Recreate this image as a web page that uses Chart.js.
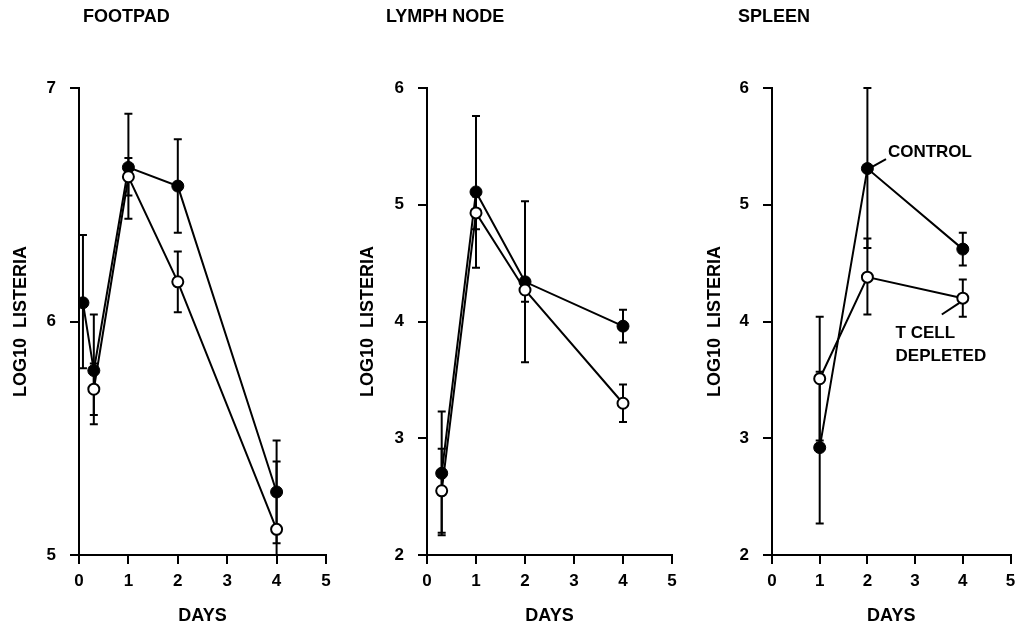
<html>
<head>
<title>Listeria counts after infection</title>
<script src="https://cdn.jsdelivr.net/npm/chart.js"></script>
<style>
  body { margin: 0; padding: 0; background: #fff; }
  #wrap { position: relative; width: 1018px; height: 627px; }
  canvas { position: absolute; top: 0; }
</style>
</head>
<body>
<div id="wrap">
  <canvas id="footpad" width="340" height="627" style="left:0px"></canvas>
  <canvas id="lymph" width="340" height="627" style="left:340px"></canvas>
  <canvas id="spleen" width="338" height="627" style="left:680px"></canvas>
</div>
<script>
// x axis (days) tick labels, shared by all panels
const dayTicks = [0, 1, 2, 3, 4, 5];

// footpad
const fpTicks = [5, 6, 7];
const fpCtrlDays = [0.08, 0.3, 1, 2, 4];
const fpCtrl   = [6.08, 5.79, 6.66, 6.58, 5.27];
const fpCtrlLo = [5.80, 5.56, 6.44, 6.38, 5.05];
const fpCtrlHi = [6.37, 6.03, 6.89, 6.78, 5.49];
const fpTcdDays = [0.3, 1, 2, 4];
const fpTcd   = [5.71, 6.62, 6.17, 5.11];
const fpTcdLo = [5.60, 6.54, 6.04, 4.82];
const fpTcdHi = [5.82, 6.70, 6.30, 5.40];

// lymph node
const lnTicks = [2, 3, 4, 5, 6];
const lnDays = [0.3, 1, 2, 4];
const lnCtrl   = [2.70, 5.11, 4.34, 3.96];
const lnCtrlLo = [2.17, 4.46, 3.65, 3.82];
const lnCtrlHi = [3.23, 5.76, 5.03, 4.10];
const lnTcd   = [2.55, 4.93, 4.27, 3.30];
const lnTcdLo = [2.19, 4.79, 4.17, 3.14];
const lnTcdHi = [2.91, 5.07, 4.37, 3.46];

// spleen
const spTicks = [2, 3, 4, 5, 6];
const spDays = [1, 2, 4];
const spCtrl   = [2.92, 5.31, 4.62];
const spCtrlLo = [2.27, 4.63, 4.48];
const spCtrlHi = [3.57, 6.00, 4.76];
const spTcd   = [3.51, 4.38, 4.20];
const spTcdLo = [2.98, 4.06, 4.04];
const spTcdHi = [4.04, 4.71, 4.36];

const FONT = '"Liberation Sans", Arial, Helvetica, sans-serif';

function pts(xs, ys) {
  return xs.map((x, i) => ({ x: x, y: ys[i] }));
}

// error bars, drawn under the lines and markers
const errorBars = {
  id: 'errorBars',
  beforeDatasetsDraw(chart) {
    const { ctx, chartArea, scales } = chart;
    ctx.save();
    ctx.beginPath();
    ctx.rect(chartArea.left - 6, chartArea.top - 2, chartArea.width + 12, chartArea.height + 3);
    ctx.clip();
    ctx.strokeStyle = '#000';
    ctx.lineWidth = 2;
    chart.data.datasets.forEach(ds => {
      ds.data.forEach((p, i) => {
        const px = scales.x.getPixelForValue(p.x);
        const top = scales.y.getPixelForValue(ds.hi[i]);
        const bot = scales.y.getPixelForValue(ds.lo[i]);
        ctx.beginPath();
        ctx.moveTo(px, top); ctx.lineTo(px, bot);
        ctx.moveTo(px - 4, top); ctx.lineTo(px + 4, top);
        ctx.moveTo(px - 4, bot); ctx.lineTo(px + 4, bot);
        ctx.stroke();
      });
    });
    ctx.restore();
  }
};

// panel heading and the CONTROL / T CELL DEPLETED labels
const panelText = {
  id: 'panelText',
  afterDraw(chart, args, opts) {
    const { ctx, scales } = chart;
    ctx.save();
    ctx.fillStyle = '#000';
    ctx.textBaseline = 'middle';
    ctx.font = 'bold 18px ' + FONT;
    ctx.fillText(opts.title, opts.titleX, 17);
    (opts.notes || []).forEach(n => {
      ctx.font = 'bold 17px ' + FONT;
      ctx.fillText(n.text, scales.x.getPixelForValue(n.x), scales.y.getPixelForValue(n.y));
    });
    ctx.strokeStyle = '#000';
    ctx.lineWidth = 2;
    (opts.leaders || []).forEach(l => {
      ctx.beginPath();
      ctx.moveTo(scales.x.getPixelForValue(l[0]), scales.y.getPixelForValue(l[1]));
      ctx.lineTo(scales.x.getPixelForValue(l[2]), scales.y.getPixelForValue(l[3]));
      ctx.stroke();
    });
    ctx.restore();
  }
};

function makePanel(id, cfg) {
  const tickFont = { family: FONT, size: 17, weight: 'bold' };
  const titleFont = { family: FONT, size: 18, weight: 'bold' };
  return new Chart(document.getElementById(id), {
    type: 'scatter',
    data: {
      datasets: [
        {
          label: 'T cell depleted',
          data: pts(cfg.tcdDays, cfg.tcd),
          lo: cfg.tcdLo, hi: cfg.tcdHi,
          showLine: true,
          borderColor: '#000', borderWidth: 2,
          pointRadius: 5.5, pointBorderWidth: 2,
          pointBackgroundColor: '#fff', pointBorderColor: '#000'
        },
        {
          label: 'Control',
          data: pts(cfg.ctrlDays, cfg.ctrl),
          lo: cfg.ctrlLo, hi: cfg.ctrlHi,
          showLine: true,
          borderColor: '#000', borderWidth: 2,
          pointRadius: 6, pointBorderWidth: 1,
          pointBackgroundColor: '#000', pointBorderColor: '#000'
        }
      ]
    },
    options: {
      responsive: false,
      animation: false,
      layout: { padding: { top: 88, right: cfg.padRight, bottom: 0, left: 0 } },
      plugins: {
        legend: { display: false },
        tooltip: { enabled: false },
        panelText: { title: cfg.title, titleX: cfg.titleX, notes: cfg.notes, leaders: cfg.leaders }
      },
      scales: {
        x: {
          type: 'linear',
          min: dayTicks[0], max: dayTicks[dayTicks.length - 1],
          afterBuildTicks: s => { s.ticks = dayTicks.map(v => ({ value: v })); },
          afterFit: s => { s.height = 72; s.paddingLeft = 0; s.paddingRight = 0; },
          ticks: { color: '#000', font: tickFont, padding: 7, maxRotation: 0 },
          grid: { drawOnChartArea: false, tickLength: 9, color: '#000', lineWidth: 2 },
          border: { color: '#000', width: 2 },
          title: { display: true, text: 'DAYS', color: '#000', font: titleFont, padding: { top: 0, bottom: 0 } }
        },
        y: {
          type: 'linear',
          min: cfg.yTicks[0], max: cfg.yTicks[cfg.yTicks.length - 1],
          afterBuildTicks: s => { s.ticks = cfg.yTicks.map(v => ({ value: v })); },
          afterFit: s => { s.width = cfg.yWidth; },
          ticks: { color: '#000', font: tickFont, padding: 14 },
          grid: { drawOnChartArea: false, tickLength: 9, color: '#000', lineWidth: 2 },
          border: { color: '#000', width: 2 },
          title: { display: true, text: 'LOG10  LISTERIA', color: '#000', font: titleFont, padding: { top: cfg.yTitlePad, bottom: 0 } }
        }
      }
    },
    plugins: [errorBars, panelText]
  });
}

makePanel('footpad', {
  title: 'FOOTPAD', titleX: 83,
  yTicks: fpTicks, yWidth: 79, padRight: 14, yTitlePad: 10,
  ctrlDays: fpCtrlDays, ctrl: fpCtrl, ctrlLo: fpCtrlLo, ctrlHi: fpCtrlHi,
  tcdDays: fpTcdDays, tcd: fpTcd, tcdLo: fpTcdLo, tcdHi: fpTcdHi
});

makePanel('lymph', {
  title: 'LYMPH NODE', titleX: 46,
  yTicks: lnTicks, yWidth: 87, padRight: 8, yTitlePad: 17,
  ctrlDays: lnDays, ctrl: lnCtrl, ctrlLo: lnCtrlLo, ctrlHi: lnCtrlHi,
  tcdDays: lnDays, tcd: lnTcd, tcdLo: lnTcdLo, tcdHi: lnTcdHi
});

makePanel('spleen', {
  title: 'SPLEEN', titleX: 58,
  yTicks: spTicks, yWidth: 92, padRight: 3, yTitlePad: 24,
  ctrlDays: spDays, ctrl: spCtrl, ctrlLo: spCtrlLo, ctrlHi: spCtrlHi,
  tcdDays: spDays, tcd: spTcd, tcdLo: spTcdLo, tcdHi: spTcdHi,
  notes: [
    { text: 'CONTROL', x: 2.43, y: 5.45 },
    { text: 'T CELL', x: 2.59, y: 3.90 },
    { text: 'DEPLETED', x: 2.59, y: 3.70 }
  ],
  leaders: [
    [2.08, 5.32, 2.39, 5.39],
    [3.56, 4.06, 3.93, 4.16]
  ]
});
</script>
</body>
</html>
